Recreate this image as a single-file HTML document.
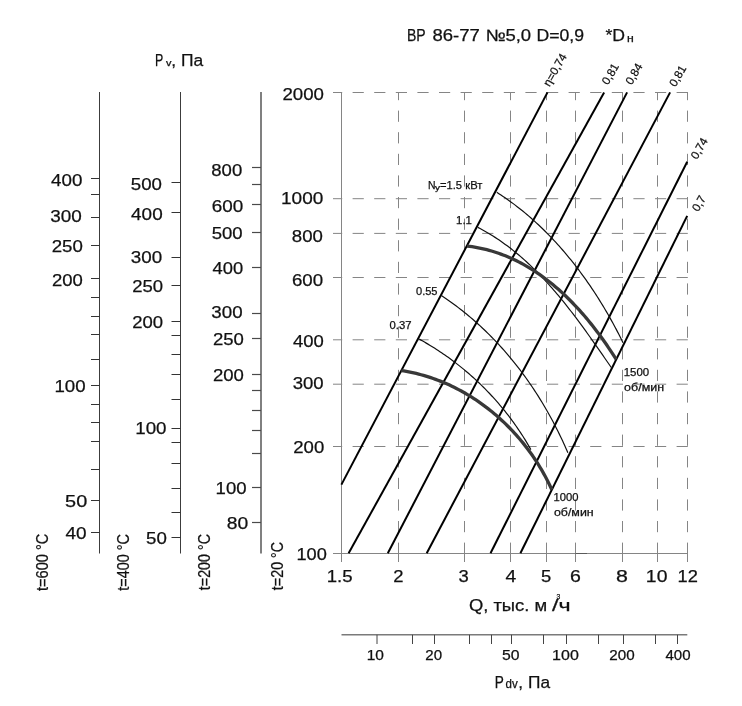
<!DOCTYPE html>
<html><head><meta charset="utf-8"><style>
html,body{margin:0;padding:0;background:#fff;overflow:hidden;}
svg{display:block;font-family:"Liberation Sans", sans-serif;will-change:transform;} text{stroke:#111;stroke-width:0.25px;}
</style></head><body>
<svg width="742" height="706" viewBox="0 0 742 706">
<rect width="742" height="706" fill="#fff"/>
<line x1="99.50" y1="92.00" x2="99.50" y2="553.50" stroke="#3c3c3c" stroke-width="1" />
<line x1="91.00" y1="178.50" x2="99.50" y2="178.50" stroke="#333" stroke-width="1" />
<line x1="91.00" y1="194.50" x2="99.50" y2="194.50" stroke="#333" stroke-width="1" />
<line x1="91.00" y1="217.50" x2="99.50" y2="217.50" stroke="#333" stroke-width="1" />
<line x1="91.00" y1="245.50" x2="99.50" y2="245.50" stroke="#333" stroke-width="1" />
<line x1="91.00" y1="278.50" x2="99.50" y2="278.50" stroke="#333" stroke-width="1" />
<line x1="91.00" y1="297.50" x2="99.50" y2="297.50" stroke="#333" stroke-width="1" />
<line x1="91.00" y1="316.50" x2="99.50" y2="316.50" stroke="#333" stroke-width="1" />
<line x1="91.00" y1="334.50" x2="99.50" y2="334.50" stroke="#333" stroke-width="1" />
<line x1="91.00" y1="359.50" x2="99.50" y2="359.50" stroke="#333" stroke-width="1" />
<line x1="91.00" y1="385.50" x2="99.50" y2="385.50" stroke="#333" stroke-width="1" />
<line x1="91.00" y1="404.50" x2="99.50" y2="404.50" stroke="#333" stroke-width="1" />
<line x1="91.00" y1="422.50" x2="99.50" y2="422.50" stroke="#333" stroke-width="1" />
<line x1="91.00" y1="441.50" x2="99.50" y2="441.50" stroke="#333" stroke-width="1" />
<line x1="91.00" y1="469.50" x2="99.50" y2="469.50" stroke="#333" stroke-width="1" />
<line x1="91.00" y1="500.50" x2="99.50" y2="500.50" stroke="#333" stroke-width="1" />
<line x1="91.00" y1="532.50" x2="99.50" y2="532.50" stroke="#333" stroke-width="1" />
<line x1="180.50" y1="92.00" x2="180.50" y2="553.50" stroke="#3c3c3c" stroke-width="1" />
<line x1="171.50" y1="182.50" x2="180.50" y2="182.50" stroke="#333" stroke-width="1" />
<line x1="171.50" y1="212.50" x2="180.50" y2="212.50" stroke="#333" stroke-width="1" />
<line x1="171.50" y1="257.50" x2="180.50" y2="257.50" stroke="#333" stroke-width="1" />
<line x1="171.50" y1="285.50" x2="180.50" y2="285.50" stroke="#333" stroke-width="1" />
<line x1="171.50" y1="321.50" x2="180.50" y2="321.50" stroke="#333" stroke-width="1" />
<line x1="171.50" y1="335.50" x2="180.50" y2="335.50" stroke="#333" stroke-width="1" />
<line x1="171.50" y1="354.50" x2="180.50" y2="354.50" stroke="#333" stroke-width="1" />
<line x1="171.50" y1="374.50" x2="180.50" y2="374.50" stroke="#333" stroke-width="1" />
<line x1="171.50" y1="399.50" x2="180.50" y2="399.50" stroke="#333" stroke-width="1" />
<line x1="171.50" y1="428.50" x2="180.50" y2="428.50" stroke="#333" stroke-width="1" />
<line x1="171.50" y1="442.50" x2="180.50" y2="442.50" stroke="#333" stroke-width="1" />
<line x1="171.50" y1="463.50" x2="180.50" y2="463.50" stroke="#333" stroke-width="1" />
<line x1="171.50" y1="488.50" x2="180.50" y2="488.50" stroke="#333" stroke-width="1" />
<line x1="171.50" y1="512.50" x2="180.50" y2="512.50" stroke="#333" stroke-width="1" />
<line x1="171.50" y1="537.50" x2="180.50" y2="537.50" stroke="#333" stroke-width="1" />
<line x1="261.00" y1="92.00" x2="261.00" y2="553.50" stroke="#808080" stroke-width="2" />
<line x1="252.00" y1="167.50" x2="261.00" y2="167.50" stroke="#4a4a4a" stroke-width="1.2" />
<line x1="252.00" y1="184.50" x2="261.00" y2="184.50" stroke="#4a4a4a" stroke-width="1.2" />
<line x1="252.00" y1="204.50" x2="261.00" y2="204.50" stroke="#4a4a4a" stroke-width="1.2" />
<line x1="252.00" y1="232.50" x2="261.00" y2="232.50" stroke="#4a4a4a" stroke-width="1.2" />
<line x1="252.00" y1="267.50" x2="261.00" y2="267.50" stroke="#4a4a4a" stroke-width="1.2" />
<line x1="252.00" y1="313.50" x2="261.00" y2="313.50" stroke="#4a4a4a" stroke-width="1.2" />
<line x1="252.00" y1="338.50" x2="261.00" y2="338.50" stroke="#4a4a4a" stroke-width="1.2" />
<line x1="252.00" y1="374.50" x2="261.00" y2="374.50" stroke="#4a4a4a" stroke-width="1.2" />
<line x1="252.00" y1="390.50" x2="261.00" y2="390.50" stroke="#4a4a4a" stroke-width="1.2" />
<line x1="252.00" y1="410.50" x2="261.00" y2="410.50" stroke="#4a4a4a" stroke-width="1.2" />
<line x1="252.00" y1="430.50" x2="261.00" y2="430.50" stroke="#4a4a4a" stroke-width="1.2" />
<line x1="252.00" y1="453.50" x2="261.00" y2="453.50" stroke="#4a4a4a" stroke-width="1.2" />
<line x1="252.00" y1="487.50" x2="261.00" y2="487.50" stroke="#4a4a4a" stroke-width="1.2" />
<line x1="252.00" y1="522.50" x2="261.00" y2="522.50" stroke="#4a4a4a" stroke-width="1.2" />
<line x1="687.80" y1="92.50" x2="333.00" y2="92.50" stroke="#858585" stroke-width="1" stroke-dasharray="11.2 10.4"/>
<line x1="687.80" y1="198.70" x2="333.00" y2="198.70" stroke="#858585" stroke-width="1" stroke-dasharray="11.2 10.4"/>
<line x1="687.80" y1="233.40" x2="333.00" y2="233.40" stroke="#858585" stroke-width="1" stroke-dasharray="11.2 10.4"/>
<line x1="687.80" y1="277.50" x2="333.00" y2="277.50" stroke="#858585" stroke-width="1" stroke-dasharray="11.2 10.4"/>
<line x1="687.80" y1="339.80" x2="333.00" y2="339.80" stroke="#858585" stroke-width="1" stroke-dasharray="11.2 10.4"/>
<line x1="687.80" y1="384.20" x2="333.00" y2="384.20" stroke="#858585" stroke-width="1" stroke-dasharray="11.2 10.4"/>
<line x1="687.80" y1="446.50" x2="333.00" y2="446.50" stroke="#858585" stroke-width="1" stroke-dasharray="11.2 10.4"/>
<line x1="398.50" y1="553.80" x2="398.50" y2="92.00" stroke="#858585" stroke-width="1" stroke-dasharray="11.2 10.4"/>
<line x1="398.50" y1="553.00" x2="398.50" y2="562.00" stroke="#858585" stroke-width="1" />
<line x1="464.50" y1="553.80" x2="464.50" y2="92.00" stroke="#858585" stroke-width="1" stroke-dasharray="11.2 10.4"/>
<line x1="464.50" y1="553.00" x2="464.50" y2="562.00" stroke="#858585" stroke-width="1" />
<line x1="510.50" y1="553.80" x2="510.50" y2="92.00" stroke="#858585" stroke-width="1" stroke-dasharray="11.2 10.4"/>
<line x1="510.50" y1="553.00" x2="510.50" y2="562.00" stroke="#858585" stroke-width="1" />
<line x1="546.50" y1="553.80" x2="546.50" y2="92.00" stroke="#858585" stroke-width="1" stroke-dasharray="11.2 10.4"/>
<line x1="546.50" y1="553.00" x2="546.50" y2="562.00" stroke="#858585" stroke-width="1" />
<line x1="575.50" y1="553.80" x2="575.50" y2="92.00" stroke="#858585" stroke-width="1" stroke-dasharray="11.2 10.4"/>
<line x1="575.50" y1="553.00" x2="575.50" y2="562.00" stroke="#858585" stroke-width="1" />
<line x1="622.50" y1="553.80" x2="622.50" y2="92.00" stroke="#858585" stroke-width="1" stroke-dasharray="11.2 10.4"/>
<line x1="622.50" y1="553.00" x2="622.50" y2="562.00" stroke="#858585" stroke-width="1" />
<line x1="657.50" y1="553.80" x2="657.50" y2="92.00" stroke="#858585" stroke-width="1" stroke-dasharray="11.2 10.4"/>
<line x1="657.50" y1="553.00" x2="657.50" y2="562.00" stroke="#858585" stroke-width="1" />
<line x1="687.50" y1="553.80" x2="687.50" y2="92.00" stroke="#858585" stroke-width="1" stroke-dasharray="11.2 10.4"/>
<line x1="687.50" y1="553.00" x2="687.50" y2="562.00" stroke="#858585" stroke-width="1" />
<line x1="341.50" y1="92.00" x2="341.50" y2="562.00" stroke="#858585" stroke-width="1" />
<line x1="333.00" y1="553.50" x2="687.80" y2="553.50" stroke="#858585" stroke-width="1" />
<line x1="575.50" y1="553.50" x2="587.00" y2="553.50" stroke="#5a5a5a" stroke-width="1" />
<line x1="341.40" y1="484.60" x2="547.50" y2="92.40" stroke="#000" stroke-width="2" />
<line x1="348.60" y1="553.30" x2="604.10" y2="92.40" stroke="#000" stroke-width="2" />
<line x1="387.80" y1="553.30" x2="627.10" y2="92.40" stroke="#000" stroke-width="2" />
<line x1="426.70" y1="553.30" x2="670.10" y2="92.40" stroke="#000" stroke-width="2" />
<line x1="490.50" y1="553.30" x2="687.20" y2="161.70" stroke="#000" stroke-width="2" />
<line x1="520.40" y1="553.30" x2="687.20" y2="215.90" stroke="#000" stroke-width="2" />
<path d="M496.80,192.31 L498.89,193.65 L500.98,195.02 L503.05,196.40 L505.10,197.81 L507.15,199.23 L509.18,200.68 L511.20,202.14 L513.21,203.63 L515.20,205.13 L517.18,206.65 L519.15,208.19 L521.11,209.74 L523.05,211.32 L524.98,212.91 L526.90,214.52 L528.81,216.15 L530.70,217.79 L532.58,219.45 L534.45,221.13 L536.31,222.83 L538.15,224.53 L539.98,226.26 L541.80,228.00 L543.60,229.76 L545.39,231.53 L547.17,233.31 L548.94,235.11 L550.69,236.93 L552.43,238.76 L554.16,240.60 L555.88,242.45 L557.58,244.32 L559.27,246.20 L560.95,248.10 L562.61,250.01 L564.26,251.93 L565.90,253.86 L567.53,255.80 L569.14,257.76 L570.74,259.72 L572.33,261.70 L573.90,263.69 L575.46,265.69 L577.01,267.70 L578.55,269.72 L580.07,271.74 L581.58,273.78 L583.08,275.83 L584.56,277.89 L586.03,279.96 L587.49,282.03 L588.93,284.12 L590.37,286.21 L591.78,288.31 L593.19,290.42 L594.58,292.53 L595.96,294.65 L597.33,296.78 L598.68,298.92 L600.03,301.06 L601.35,303.21 L602.67,305.36 L603.97,307.52 L605.26,309.69 L606.53,311.86 L607.80,314.04 L609.05,316.22 L610.28,318.41 L611.50,320.60 L612.71,322.79 L613.91,324.99 L615.10,327.19 L616.27,329.40 L617.42,331.60 L618.57,333.82 L619.70,336.03 L620.82,338.25 L621.92,340.46 L623.01,342.68" fill="none" stroke="#111" stroke-width="1.2" stroke-linejoin="round" />
<path d="M477.87,227.38 L480.08,228.55 L482.28,229.74 L484.46,230.95 L486.62,232.19 L488.76,233.45 L490.88,234.74 L492.99,236.05 L495.07,237.38 L497.14,238.74 L499.19,240.12 L501.23,241.52 L503.24,242.94 L505.24,244.39 L507.23,245.85 L509.19,247.34 L511.14,248.84 L513.08,250.37 L515.00,251.91 L516.90,253.48 L518.79,255.06 L520.66,256.66 L522.52,258.28 L524.37,259.92 L526.20,261.57 L528.01,263.24 L529.81,264.93 L531.60,266.63 L533.37,268.35 L535.14,270.08 L536.88,271.83 L538.62,273.59 L540.34,275.37 L542.05,277.15 L543.75,278.96 L545.44,280.77 L547.11,282.60 L548.77,284.44 L550.43,286.29 L552.07,288.16 L553.70,290.03 L555.32,291.91 L556.93,293.81 L558.53,295.71 L560.12,297.63 L561.70,299.55 L563.27,301.48 L564.83,303.42 L566.38,305.37 L567.92,307.32 L569.46,309.28 L570.98,311.25 L572.50,313.23 L574.01,315.21 L575.52,317.19 L577.01,319.18 L578.50,321.18 L579.98,323.18 L581.46,325.18 L582.93,327.19 L584.39,329.20 L585.85,331.22 L587.30,333.23 L588.74,335.25 L590.18,337.27 L591.61,339.29 L593.04,341.31 L594.47,343.33 L595.89,345.36 L597.30,347.38 L598.72,349.40 L600.12,351.42 L601.53,353.44 L602.93,355.46 L604.33,357.47 L605.72,359.48 L607.12,361.49 L608.51,363.50 L609.89,365.50 L611.28,367.50" fill="none" stroke="#111" stroke-width="1.2" stroke-linejoin="round" />
<path d="M441.37,295.58 L443.54,297.03 L445.70,298.49 L447.85,299.96 L449.98,301.46 L452.09,302.97 L454.19,304.50 L456.28,306.05 L458.35,307.62 L460.40,309.20 L462.44,310.80 L464.47,312.42 L466.48,314.05 L468.48,315.70 L470.46,317.37 L472.43,319.05 L474.39,320.74 L476.33,322.46 L478.25,324.19 L480.16,325.93 L482.06,327.69 L483.94,329.46 L485.80,331.25 L487.65,333.06 L489.49,334.88 L491.31,336.71 L493.12,338.56 L494.91,340.42 L496.69,342.29 L498.45,344.18 L500.20,346.09 L501.93,348.00 L503.65,349.93 L505.36,351.88 L507.05,353.83 L508.72,355.80 L510.38,357.78 L512.03,359.78 L513.66,361.78 L515.27,363.80 L516.88,365.83 L518.46,367.87 L520.04,369.93 L521.59,371.99 L523.14,374.07 L524.66,376.16 L526.18,378.26 L527.67,380.37 L529.16,382.49 L530.63,384.62 L532.08,386.76 L533.52,388.91 L534.95,391.07 L536.36,393.25 L537.75,395.43 L539.13,397.62 L540.50,399.82 L541.85,402.03 L543.19,404.25 L544.51,406.48 L545.81,408.72 L547.11,410.96 L548.38,413.22 L549.65,415.48 L550.89,417.75 L552.13,420.03 L553.35,422.31 L554.55,424.61 L555.74,426.91 L556.91,429.22 L558.07,431.53 L559.22,433.86 L560.35,436.19 L561.46,438.52 L562.56,440.87 L563.65,443.22 L564.72,445.57 L565.77,447.93 L566.81,450.30 L567.84,452.67" fill="none" stroke="#111" stroke-width="1.2" stroke-linejoin="round" />
<path d="M419.22,339.14 L420.99,340.12 L422.75,341.10 L424.50,342.10 L426.24,343.11 L427.97,344.13 L429.70,345.17 L431.42,346.21 L433.13,347.27 L434.84,348.35 L436.53,349.43 L438.22,350.53 L439.90,351.64 L441.58,352.76 L443.24,353.89 L444.90,355.03 L446.55,356.19 L448.19,357.36 L449.82,358.53 L451.44,359.72 L453.06,360.93 L454.67,362.14 L456.26,363.36 L457.85,364.60 L459.43,365.85 L461.00,367.11 L462.57,368.37 L464.12,369.65 L465.66,370.95 L467.20,372.25 L468.73,373.56 L470.24,374.88 L471.75,376.22 L473.25,377.56 L474.74,378.92 L476.22,380.28 L477.69,381.66 L479.15,383.04 L480.60,384.44 L482.04,385.85 L483.47,387.26 L484.89,388.69 L486.30,390.12 L487.70,391.57 L489.10,393.03 L490.48,394.49 L491.85,395.97 L493.21,397.45 L494.56,398.95 L495.90,400.45 L497.22,401.96 L498.54,403.48 L499.85,405.02 L501.15,406.56 L502.43,408.10 L503.71,409.66 L504.97,411.23 L506.23,412.81 L507.47,414.39 L508.70,415.99 L509.92,417.59 L511.13,419.20 L512.32,420.82 L513.51,422.45 L514.68,424.08 L515.85,425.73 L517.00,427.38 L518.14,429.04 L519.26,430.71 L520.38,432.39 L521.48,434.07 L522.58,435.76 L523.66,437.46 L524.72,439.17 L525.78,440.89 L526.82,442.61 L527.85,444.34 L528.87,446.08 L529.88,447.83 L530.87,449.58" fill="none" stroke="#111" stroke-width="1.2" stroke-linejoin="round" />
<path d="M467.08,246.04 L469.61,246.35 L472.11,246.70 L474.60,247.10 L477.07,247.54 L479.53,248.01 L481.97,248.53 L484.39,249.09 L486.79,249.69 L489.18,250.33 L491.55,251.00 L493.90,251.72 L496.24,252.47 L498.56,253.25 L500.87,254.08 L503.15,254.94 L505.42,255.83 L507.68,256.76 L509.91,257.72 L512.13,258.71 L514.34,259.74 L516.52,260.80 L518.69,261.90 L520.85,263.02 L522.99,264.17 L525.11,265.36 L527.21,266.57 L529.30,267.82 L531.37,269.09 L533.43,270.39 L535.47,271.72 L537.49,273.07 L539.50,274.45 L541.49,275.86 L543.47,277.29 L545.43,278.75 L547.37,280.23 L549.30,281.74 L551.21,283.27 L553.11,284.82 L554.99,286.40 L556.85,287.99 L558.70,289.61 L560.53,291.25 L562.35,292.90 L564.15,294.58 L565.93,296.28 L567.70,297.99 L569.45,299.72 L571.19,301.47 L572.91,303.24 L574.62,305.02 L576.31,306.82 L577.99,308.64 L579.65,310.47 L581.29,312.31 L582.92,314.17 L584.54,316.04 L586.13,317.92 L587.72,319.81 L589.29,321.72 L590.84,323.64 L592.38,325.57 L593.90,327.50 L595.41,329.45 L596.90,331.41 L598.38,333.37 L599.84,335.34 L601.28,337.32 L602.72,339.31 L604.13,341.30 L605.54,343.30 L606.92,345.30 L608.30,347.31 L609.65,349.32 L611.00,351.33 L612.33,353.35 L613.64,355.37 L614.94,357.39 L616.22,359.42" fill="none" stroke="#383838" stroke-width="3.3" stroke-linejoin="round" />
<path d="M401.27,370.59 L403.78,370.98 L406.28,371.40 L408.78,371.86 L411.27,372.37 L413.74,372.90 L416.21,373.48 L418.67,374.09 L421.11,374.73 L423.55,375.41 L425.97,376.13 L428.39,376.88 L430.79,377.66 L433.18,378.48 L435.56,379.33 L437.92,380.21 L440.28,381.13 L442.62,382.08 L444.94,383.06 L447.26,384.08 L449.56,385.12 L451.84,386.20 L454.12,387.30 L456.37,388.44 L458.62,389.61 L460.85,390.80 L463.06,392.03 L465.26,393.29 L467.44,394.57 L469.61,395.88 L471.76,397.22 L473.89,398.59 L476.01,399.98 L478.11,401.41 L480.19,402.85 L482.25,404.33 L484.30,405.83 L486.33,407.35 L488.34,408.90 L490.33,410.48 L492.31,412.08 L494.26,413.70 L496.20,415.35 L498.11,417.02 L500.01,418.71 L501.88,420.43 L503.74,422.17 L505.57,423.93 L507.39,425.71 L509.18,427.52 L510.95,429.34 L512.70,431.19 L514.43,433.05 L516.13,434.94 L517.82,436.84 L519.48,438.77 L521.11,440.71 L522.73,442.67 L524.32,444.65 L525.89,446.65 L527.43,448.66 L528.95,450.69 L530.44,452.74 L531.91,454.81 L533.35,456.89 L534.77,458.98 L536.17,461.09 L537.53,463.22 L538.87,465.36 L540.19,467.52 L541.48,469.69 L542.74,471.87 L543.97,474.07 L545.18,476.28 L546.36,478.50 L547.51,480.73 L548.63,482.98 L549.73,485.23 L550.79,487.50 L551.83,489.78" fill="none" stroke="#383838" stroke-width="3.3" stroke-linejoin="round" />
<line x1="341.50" y1="634.80" x2="687.30" y2="634.80" stroke="#7a7a7a" stroke-width="1.5" />
<line x1="377.00" y1="634.80" x2="377.00" y2="644.00" stroke="#444" stroke-width="1" />
<line x1="412.50" y1="634.80" x2="412.50" y2="644.00" stroke="#444" stroke-width="1" />
<line x1="434.50" y1="634.80" x2="434.50" y2="644.00" stroke="#444" stroke-width="1" />
<line x1="469.50" y1="634.80" x2="469.50" y2="644.00" stroke="#444" stroke-width="1" />
<line x1="491.50" y1="634.80" x2="491.50" y2="644.00" stroke="#444" stroke-width="1" />
<line x1="511.50" y1="634.80" x2="511.50" y2="644.00" stroke="#444" stroke-width="1" />
<line x1="543.50" y1="634.80" x2="543.50" y2="644.00" stroke="#444" stroke-width="1" />
<line x1="566.50" y1="634.80" x2="566.50" y2="644.00" stroke="#444" stroke-width="1" />
<line x1="598.50" y1="634.80" x2="598.50" y2="644.00" stroke="#444" stroke-width="1" />
<line x1="623.50" y1="634.80" x2="623.50" y2="644.00" stroke="#444" stroke-width="1" />
<line x1="655.50" y1="634.80" x2="655.50" y2="644.00" stroke="#444" stroke-width="1" />
<line x1="677.50" y1="634.80" x2="677.50" y2="644.00" stroke="#444" stroke-width="1" />
<text x="51.11" y="185.50" font-size="17.35" fill="#111" textLength="31.34" lengthAdjust="spacingAndGlyphs" >400</text>
<text x="50.18" y="222.30" font-size="17.35" fill="#111" textLength="31.57" lengthAdjust="spacingAndGlyphs" >300</text>
<text x="51.68" y="252.10" font-size="17.35" fill="#111" textLength="31.17" lengthAdjust="spacingAndGlyphs" >250</text>
<text x="51.99" y="285.50" font-size="17.35" fill="#111" textLength="30.85" lengthAdjust="spacingAndGlyphs" >200</text>
<text x="54.45" y="392.10" font-size="17.35" fill="#111" textLength="31.20" lengthAdjust="spacingAndGlyphs" >100</text>
<text x="65.14" y="507.30" font-size="17.35" fill="#111" textLength="22.10" lengthAdjust="spacingAndGlyphs" >50</text>
<text x="65.51" y="539.00" font-size="17.35" fill="#111" textLength="21.10" lengthAdjust="spacingAndGlyphs" >40</text>
<text x="130.79" y="189.60" font-size="17.35" fill="#111" textLength="31.15" lengthAdjust="spacingAndGlyphs" >500</text>
<text x="131.11" y="220.10" font-size="17.35" fill="#111" textLength="31.54" lengthAdjust="spacingAndGlyphs" >400</text>
<text x="130.79" y="263.20" font-size="17.35" fill="#111" textLength="31.36" lengthAdjust="spacingAndGlyphs" >300</text>
<text x="132.29" y="292.10" font-size="17.35" fill="#111" textLength="30.85" lengthAdjust="spacingAndGlyphs" >250</text>
<text x="132.29" y="327.80" font-size="17.35" fill="#111" textLength="30.85" lengthAdjust="spacingAndGlyphs" >200</text>
<text x="135.24" y="434.10" font-size="17.35" fill="#111" textLength="31.31" lengthAdjust="spacingAndGlyphs" >100</text>
<text x="146.09" y="543.90" font-size="17.35" fill="#111" textLength="20.81" lengthAdjust="spacingAndGlyphs" >50</text>
<text x="211.29" y="176.00" font-size="17.35" fill="#111" textLength="30.95" lengthAdjust="spacingAndGlyphs" >800</text>
<text x="211.67" y="212.30" font-size="17.35" fill="#111" textLength="31.49" lengthAdjust="spacingAndGlyphs" >600</text>
<text x="211.70" y="239.20" font-size="17.35" fill="#111" textLength="30.94" lengthAdjust="spacingAndGlyphs" >500</text>
<text x="212.52" y="274.30" font-size="17.35" fill="#111" textLength="30.61" lengthAdjust="spacingAndGlyphs" >400</text>
<text x="211.39" y="317.70" font-size="17.35" fill="#111" textLength="31.26" lengthAdjust="spacingAndGlyphs" >300</text>
<text x="212.98" y="345.10" font-size="17.35" fill="#111" textLength="30.96" lengthAdjust="spacingAndGlyphs" >250</text>
<text x="212.98" y="380.80" font-size="17.35" fill="#111" textLength="30.96" lengthAdjust="spacingAndGlyphs" >200</text>
<text x="215.56" y="493.50" font-size="17.35" fill="#111" textLength="30.99" lengthAdjust="spacingAndGlyphs" >100</text>
<text x="226.75" y="529.20" font-size="17.35" fill="#111" textLength="21.47" lengthAdjust="spacingAndGlyphs" >80</text>
<text x="282.48" y="100.20" font-size="17.35" fill="#111" textLength="41.52" lengthAdjust="spacingAndGlyphs" >2000</text>
<text x="281.02" y="203.50" font-size="17.35" fill="#111" textLength="42.29" lengthAdjust="spacingAndGlyphs" >1000</text>
<text x="291.79" y="241.50" font-size="17.35" fill="#111" textLength="31.06" lengthAdjust="spacingAndGlyphs" >800</text>
<text x="291.98" y="285.70" font-size="17.35" fill="#111" textLength="31.17" lengthAdjust="spacingAndGlyphs" >600</text>
<text x="293.02" y="346.80" font-size="17.35" fill="#111" textLength="30.82" lengthAdjust="spacingAndGlyphs" >400</text>
<text x="292.70" y="389.40" font-size="17.35" fill="#111" textLength="30.94" lengthAdjust="spacingAndGlyphs" >300</text>
<text x="293.28" y="452.50" font-size="17.35" fill="#111" textLength="30.96" lengthAdjust="spacingAndGlyphs" >200</text>
<text x="296.48" y="559.60" font-size="17.35" fill="#111" textLength="30.34" lengthAdjust="spacingAndGlyphs" >100</text>
<text x="326.65" y="582.00" font-size="17.35" fill="#111" textLength="25.87" lengthAdjust="spacingAndGlyphs" >1.5</text>
<text x="393.19" y="582.00" font-size="17.35" fill="#111" textLength="10.26" lengthAdjust="spacingAndGlyphs" >2</text>
<text x="458.40" y="582.00" font-size="17.35" fill="#111" textLength="10.24" lengthAdjust="spacingAndGlyphs" >3</text>
<text x="505.40" y="582.00" font-size="17.35" fill="#111" textLength="10.75" lengthAdjust="spacingAndGlyphs" >4</text>
<text x="540.90" y="582.00" font-size="17.35" fill="#111" textLength="10.24" lengthAdjust="spacingAndGlyphs" >5</text>
<text x="569.93" y="582.00" font-size="17.35" fill="#111" textLength="10.86" lengthAdjust="spacingAndGlyphs" >6</text>
<text x="615.95" y="582.00" font-size="17.35" fill="#111" textLength="11.91" lengthAdjust="spacingAndGlyphs" >8</text>
<text x="645.89" y="582.00" font-size="17.35" fill="#111" textLength="21.53" lengthAdjust="spacingAndGlyphs" >10</text>
<text x="677.58" y="582.00" font-size="17.35" fill="#111" textLength="20.32" lengthAdjust="spacingAndGlyphs" >12</text>
<text x="366.68" y="660.30" font-size="14" fill="#111" textLength="17.25" lengthAdjust="spacingAndGlyphs" >10</text>
<text x="425.25" y="660.30" font-size="14" fill="#111" textLength="16.77" lengthAdjust="spacingAndGlyphs" >20</text>
<text x="502.02" y="660.30" font-size="14" fill="#111" textLength="17.52" lengthAdjust="spacingAndGlyphs" >50</text>
<text x="552.14" y="660.30" font-size="14" fill="#111" textLength="26.69" lengthAdjust="spacingAndGlyphs" >100</text>
<text x="609.24" y="660.30" font-size="14" fill="#111" textLength="25.37" lengthAdjust="spacingAndGlyphs" >200</text>
<text x="665.48" y="660.30" font-size="14" fill="#111" textLength="25.12" lengthAdjust="spacingAndGlyphs" >400</text>
<text x="406.97" y="41.40" font-size="16.2" fill="#111" textLength="18.73" lengthAdjust="spacingAndGlyphs" >ВР</text>
<text x="432.40" y="41.40" font-size="16.2" fill="#111" textLength="47.35" lengthAdjust="spacingAndGlyphs" >86-77</text>
<text x="485.59" y="41.40" font-size="16.2" fill="#111" textLength="45.49" lengthAdjust="spacingAndGlyphs" >№5,0</text>
<text x="536.48" y="41.40" font-size="16.2" fill="#111" textLength="47.56" lengthAdjust="spacingAndGlyphs" >D=0,9</text>
<text x="605.47" y="41.40" font-size="16.2" fill="#111" textLength="19.60" lengthAdjust="spacingAndGlyphs" >*D</text>
<text x="627.11" y="41.80" font-size="10.8" fill="#111" textLength="6.76" lengthAdjust="spacingAndGlyphs" >н</text>
<text x="154.97" y="65.50" font-size="16.9" fill="#111" textLength="8.27" lengthAdjust="spacingAndGlyphs" >P</text>
<text x="165.90" y="65.50" font-size="8.7" fill="#111" textLength="5.46" lengthAdjust="spacingAndGlyphs" >v</text>
<text x="171.25" y="65.50" font-size="16.9" fill="#111" textLength="31.89" lengthAdjust="spacingAndGlyphs" >, Па</text>
<text x="468.92" y="610.50" font-size="16.7" fill="#111" textLength="78.23" lengthAdjust="spacingAndGlyphs" >Q, тыс. м</text>
<text x="552.00" y="610.50" font-size="16.7" fill="#111" textLength="18.63" lengthAdjust="spacingAndGlyphs" >/ч</text>
<text x="556.51" y="599.20" font-size="7" fill="#111" textLength="3.78" lengthAdjust="spacingAndGlyphs" >3</text>
<text x="494.68" y="687.70" font-size="17" fill="#111" textLength="9.07" lengthAdjust="spacingAndGlyphs" >P</text>
<text x="505.56" y="687.70" font-size="13" fill="#111" textLength="12.16" lengthAdjust="spacingAndGlyphs" >dv</text>
<text x="518.37" y="687.70" font-size="17" fill="#111" textLength="31.65" lengthAdjust="spacingAndGlyphs" >, Па</text>
<text transform="translate(48.00,590.98) rotate(-90)" font-size="15.8" fill="#111" textLength="57.34" lengthAdjust="spacingAndGlyphs">t=600 °C</text>
<text transform="translate(128.60,590.68) rotate(-90)" font-size="15.8" fill="#111" textLength="56.73" lengthAdjust="spacingAndGlyphs">t=400 °C</text>
<text transform="translate(209.80,590.18) rotate(-90)" font-size="15.8" fill="#111" textLength="56.22" lengthAdjust="spacingAndGlyphs">t=200 °C</text>
<text transform="translate(283.20,590.18) rotate(-90)" font-size="15.8" fill="#111" textLength="48.33" lengthAdjust="spacingAndGlyphs">t=20 °C</text>
<text x="427.91" y="189.20" font-size="11.7" fill="#111" textLength="7.54" lengthAdjust="spacingAndGlyphs" >N</text>
<text x="435.00" y="189.60" font-size="7.6" fill="#111" textLength="5.00" lengthAdjust="spacingAndGlyphs" >у</text>
<text x="439.93" y="189.20" font-size="11.7" fill="#111" textLength="22.05" lengthAdjust="spacingAndGlyphs" >=1.5</text>
<text x="465.33" y="189.20" font-size="11.7" fill="#111" textLength="17.15" lengthAdjust="spacingAndGlyphs" >кВт</text>
<text x="456.07" y="224.00" font-size="11" fill="#111" textLength="15.84" lengthAdjust="spacingAndGlyphs" >1.1</text>
<text x="415.99" y="295.00" font-size="10.8" fill="#111" textLength="21.54" lengthAdjust="spacingAndGlyphs" >0.55</text>
<text x="389.58" y="328.70" font-size="10.8" fill="#111" textLength="21.96" lengthAdjust="spacingAndGlyphs" >0.37</text>
<text x="623.73" y="376.00" font-size="10.5" fill="#111" textLength="25.47" lengthAdjust="spacingAndGlyphs" >1500</text>
<text x="624.13" y="391.30" font-size="10.5" fill="#111" textLength="39.95" lengthAdjust="spacingAndGlyphs" >об/мин</text>
<text x="553.55" y="500.60" font-size="10.5" fill="#111" textLength="24.94" lengthAdjust="spacingAndGlyphs" >1000</text>
<text x="553.93" y="515.80" font-size="10.5" fill="#111" textLength="39.74" lengthAdjust="spacingAndGlyphs" >об/мин</text>
<text transform="translate(549.50,87.20) rotate(-60)" font-size="11.5" fill="#111">η=0,74</text>
<text transform="translate(608.10,85.50) rotate(-60)" font-size="11.5" fill="#111">0,81</text>
<text transform="translate(631.80,85.50) rotate(-60)" font-size="11.5" fill="#111">0,84</text>
<text transform="translate(675.50,87.50) rotate(-60)" font-size="11.5" fill="#111">0,81</text>
<text transform="translate(697.00,160.00) rotate(-60)" font-size="11.5" fill="#111">0,74</text>
<text transform="translate(698.30,212.30) rotate(-60)" font-size="11.5" fill="#111">0,7</text>
</svg></body></html>
